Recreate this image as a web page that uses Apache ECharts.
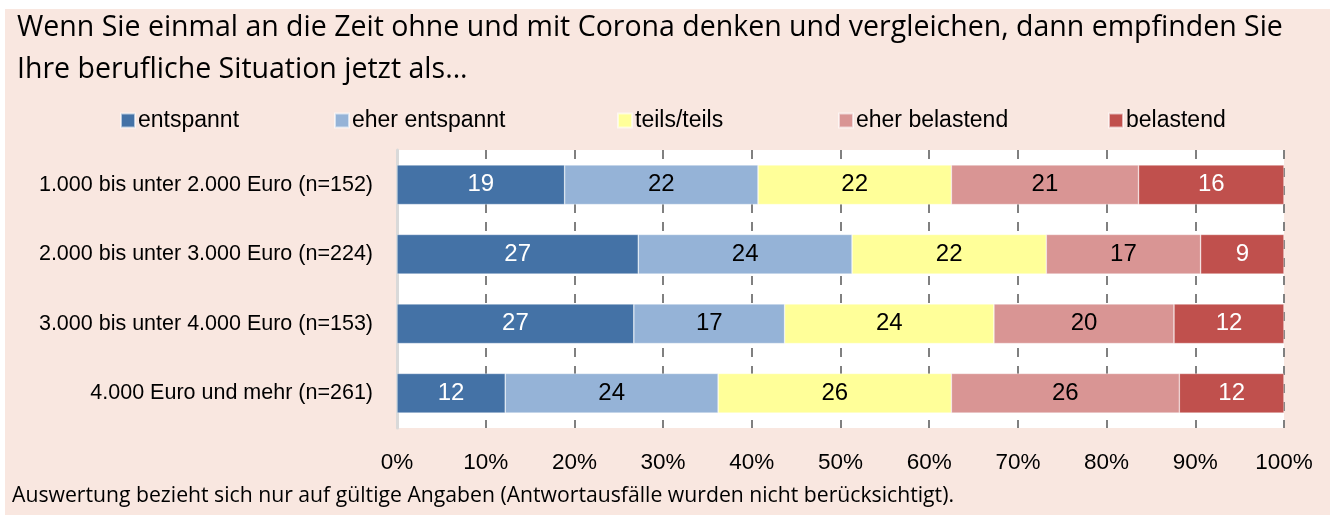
<!DOCTYPE html>
<html><head><meta charset="utf-8">
<script src="https://cdn.jsdelivr.net/npm/echarts@6/dist/echarts.min.js"></script>
<style>html,body{margin:0;padding:0;background:#fff}#c{width:1330px;height:515px}</style>
</head><body><div id="c"></div>
<script>
const titleLines = ['Wenn Sie einmal an die Zeit ohne und mit Corona denken und vergleichen, dann empfinden Sie', 'Ihre berufliche Situation jetzt als...'];
const footnote = 'Auswertung bezieht sich nur auf gültige Angaben (Antwortausfälle wurden nicht berücksichtigt).';
const categories = ['1.000 bis unter 2.000 Euro (n=152)', '2.000 bis unter 3.000 Euro (n=224)', '3.000 bis unter 4.000 Euro (n=153)', '4.000 Euro und mehr (n=261)'];
const seriesNames = ['entspannt', 'eher entspannt', 'teils/teils', 'eher belastend', 'belastend'];
const entspannt = [18.9, 27.2, 26.7, 12.2];
const eherEntspannt = [21.8, 24.1, 17.0, 24.0];
const teilsTeils = [21.8, 21.9, 23.6, 26.3];
const eherBelastend = [21.1, 17.4, 20.3, 25.7];
const belastend = [16.4, 9.4, 12.4, 11.8];
const tickValues = [0, 10, 20, 30, 40, 50, 60, 70, 80, 90, 100];

const seriesData = [entspannt, eherEntspannt, teilsTeils, eherBelastend, belastend];
const colors = ['#4472A6', '#95B3D7', '#FFFF99', '#D99594', '#C0504D'];
const labelColors = ['#fff', '#000', '#000', '#000', '#fff'];
const legendLeft = [115, 329, 612, 833, 1103];
const labelFont = '"Liberation Sans Narrow", "Liberation Sans", sans-serif';

const chart = echarts.init(document.getElementById('c'), null, {renderer: 'canvas'});
chart.setOption({
  backgroundColor: '#fff',
  animation: false,
  graphic: [
    {type: 'rect', left: 5, top: 9, shape: {width: 1325, height: 506}, style: {fill: '#F9E7E0'}, z: -10, silent: true},
    {type: 'text', left: 17, top: 7, style: {text: titleLines.join('\n'), font: '28.5px "Open Sans", sans-serif', lineHeight: 42, fill: '#000'}},
    {type: 'text', left: 12, top: 485, style: {text: footnote, font: '21.2px "Open Sans", sans-serif', fill: '#000'}}
  ],
  legend: seriesNames.map((n, i) => ({
    data: [n], left: legendLeft[i], top: 104, itemWidth: 14, itemHeight: 14, itemGap: 0,
    icon: 'rect', textStyle: {fontFamily: labelFont, fontSize: 23, color: '#000', padding: [0, 0, 0, -2]}
  })),
  grid: {left: 397, right: 46, top: 150, bottom: 87, show: true, backgroundColor: '#fff', borderWidth: 0},
  xAxis: {
    type: 'value', min: 0, max: 100, interval: 10,
    axisLabel: {formatter: v => tickValues.includes(v) ? v + '%' : '', fontFamily: labelFont, fontSize: 22.5, color: '#000', margin: 23},
    axisLine: {show: false}, axisTick: {show: false},
    splitLine: {show: true, lineStyle: {color: '#808080', width: 2, type: [9, 9]}}
  },
  yAxis: {
    type: 'category', data: categories, inverse: true,
    axisLine: {show: true, lineStyle: {color: '#D9D9D9', width: 3}},
    axisTick: {show: false},
    axisLabel: {fontFamily: labelFont, fontSize: 21.5, color: '#000', margin: 24}
  },
  series: seriesNames.map((n, i) => ({
    name: n, type: 'bar', stack: 'total', data: seriesData[i], barWidth: '57%',
    itemStyle: {color: colors[i], borderColor: 'rgba(255,255,255,0.6)', borderWidth: 0.6},
    label: {show: true, position: 'inside', formatter: p => Math.round(p.value), color: labelColors[i], fontFamily: labelFont, fontSize: 24}
  }))
});
</script></body></html>
